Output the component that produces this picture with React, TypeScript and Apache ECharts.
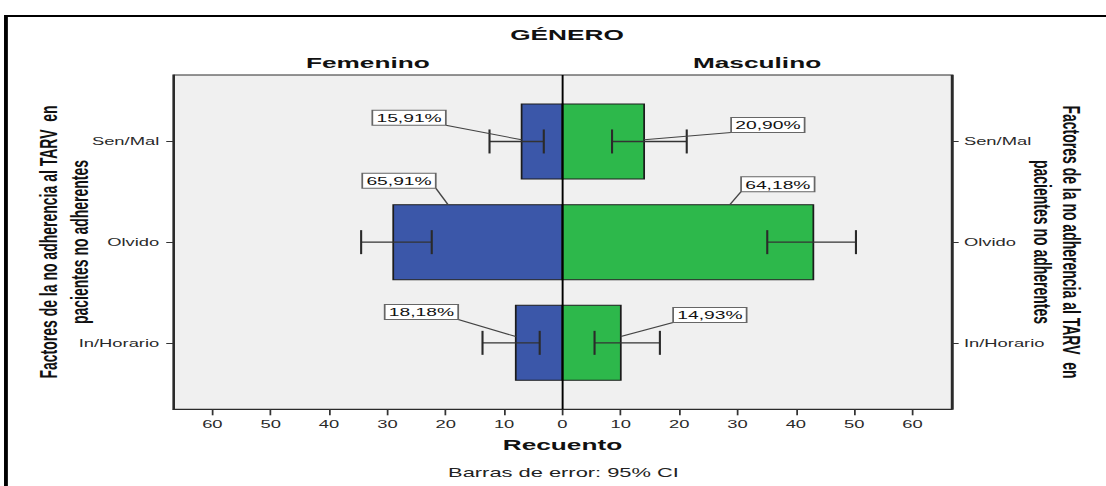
import React, { useEffect, useRef } from "react";
import * as echarts from "echarts";

// The reference picture is stretched horizontally; the chart is laid out
// at a narrower width and stretched back with a CSS scaleX.
const S = 1.75;
const W = 1106 / S;
const H = 486;

const CATEGORIES = ["In/Horario", "Olvido", "Sen/Mal"]; // bottom to top
const CAT_POS = [1, 2, 3];
const FEM_COUNTS = [8, 29, 7];
const MASC_COUNTS = [10, 43, 14];
const FEM_CI_LOW = [3.9, 22.4, 3.2];
const FEM_CI_HIGH = [13.7, 34.5, 12.5];
const MASC_CI_LOW = [5.5, 35.1, 8.5];
const MASC_CI_HIGH = [16.7, 50.3, 21.3];
const FEM_PCT = ["18,18%", "65,91%", "15,91%"];
const MASC_PCT = ["14,93%", "64,18%", "20,90%"];
const X_TICKS = [-60, -50, -40, -30, -20, -10, 0, 10, 20, 30, 40, 50, 60];
const Y_TICKS = [1, 2, 3];

// label box layout (px offsets from bar end, in unstretched units)
const FEM_LABEL_LAYOUT = [
  { box: [-53.9, -30.8], anchor: [0, -6.3] },
  { box: [3.3, -61.5], anchor: [31.3, -37.5] },
  { box: [-64.3, -23.7], anchor: [0, -1.7] },
];
const MASC_LABEL_LAYOUT = [
  { box: [50.9, -27.8], anchor: [0, -6.3] },
  { box: [-20.3, -58], anchor: [-47.7, -37.5] },
  { box: [70.7, -16.4], anchor: [0, -1.7] },
];

const FONT = "'Liberation Sans', Arial, Helvetica, sans-serif";
const FEM_COLOR = "#3b57a9";
const MASC_COLOR = "#2db84b";
const BAR_BAND = 0.745;
const CAP = 12;
const BOX_W = 42;
const BOX_H = 15;

function barRender(color: string) {
  return (params: any, api: any) => {
    const v = api.value(0);
    const y = api.value(1);
    const p0 = api.coord([0, y]);
    const p1 = api.coord([v, y]);
    const h = api.size([0, BAR_BAND])[1];
    return {
      type: "rect",
      shape: {
        x: Math.min(p0[0], p1[0]),
        y: p0[1] - h / 2,
        width: Math.abs(p1[0] - p0[0]),
        height: h,
      },
      style: { fill: color, stroke: "#1c1c1c", lineWidth: 1 },
    };
  };
}

function errRender(params: any, api: any) {
  const lo = api.value(0);
  const hi = api.value(1);
  const y = api.value(2);
  const a = api.coord([lo, y]);
  const b = api.coord([hi, y]);
  const st = { stroke: "#2a2a2a", lineWidth: 1.2 };
  return {
    type: "group",
    children: [
      { type: "line", shape: { x1: a[0], y1: a[1], x2: b[0], y2: b[1] }, style: { stroke: "#333", lineWidth: 1.4 } },
      { type: "line", shape: { x1: a[0], y1: a[1] - CAP, x2: a[0], y2: a[1] + CAP }, style: st },
      { type: "line", shape: { x1: b[0], y1: b[1] - CAP, x2: b[0], y2: b[1] + CAP }, style: st },
    ],
  };
}

function labelRender(side: "f" | "m") {
  return (params: any, api: any) => {
    const i = params.dataIndex;
    const lay = side === "f" ? FEM_LABEL_LAYOUT[i] : MASC_LABEL_LAYOUT[i];
    const text = side === "f" ? FEM_PCT[i] : MASC_PCT[i];
    const end = api.coord([api.value(0), api.value(1)]);
    const cx = end[0] + lay.box[0];
    const cy = end[1] + lay.box[1];
    const ax = end[0] + lay.anchor[0];
    const ay = end[1] + lay.anchor[1];
    const sx = side === "f" ? cx + BOX_W / 2 : cx - BOX_W / 2;
    const sy = cy + BOX_H / 2;
    return {
      type: "group",
      children: [
        { type: "line", shape: { x1: sx, y1: sy, x2: ax, y2: ay }, style: { stroke: "#444", lineWidth: 1 } },
        {
          type: "rect",
          shape: { x: cx - BOX_W / 2, y: cy - BOX_H / 2, width: BOX_W, height: BOX_H },
          style: { fill: "#fff", stroke: "#666", lineWidth: 1 },
        },
        {
          type: "text",
          x: cx,
          y: cy + 0.5,
          style: {
            text,
            align: "center",
            verticalAlign: "middle",
            textAlign: "center",
            textVerticalAlign: "middle",
            font: `11px ${FONT}`,
            fill: "#111",
          },
        },
      ],
    };
  };
}

function txt(x: number, y: number, text: string, font: string, extra: any = {}) {
  return {
    type: "text",
    x,
    y,
    silent: true,
    ...extra,
    style: {
      text,
      font,
      fill: "#111",
      align: "center",
      verticalAlign: "middle",
      textAlign: "center",
      textVerticalAlign: "middle",
      ...(extra.style || {}),
    },
  };
}

export default function App() {
  const ref = useRef<HTMLDivElement>(null);

  useEffect(() => {
    document.body.style.margin = "0";
    document.body.style.overflow = "hidden";
    if (!ref.current) return;
    const chart = echarts.init(ref.current, null, { renderer: "svg" });

    const yAxisBase = (position: "left" | "right", margin: number) => ({
      type: "value",
      position,
      min: 0.34,
      max: 3.66,
      splitLine: { show: false },
      axisLine: { show: true, onZero: false, lineStyle: { color: "#2b2b2b", width: 1 } },
      axisTick: { show: true, customValues: Y_TICKS, length: 4, lineStyle: { color: "#333", width: 1 } },
      axisLabel: {
        show: true,
        customValues: Y_TICKS,
        formatter: (v: number) => CATEGORIES[Math.round(v) - 1] || "",
        margin,
        color: "#2a2a2a",
        fontSize: 10.5,
        fontFamily: FONT,
      },
    });

    const option: any = {
      animation: false,
      backgroundColor: "#fff",
      grid: {
        left: 99,
        top: 75,
        width: 444.8,
        height: 334.3,
        show: true,
        backgroundColor: "#f0f0f0",
        borderColor: "#2b2b2b",
        borderWidth: 1,
        containLabel: false,
      },
      xAxis: {
        type: "value",
        min: -66.7,
        max: 66.7,
        splitLine: { show: false },
        axisLine: { show: true, onZero: false, lineStyle: { color: "#2b2b2b", width: 1 } },
        axisTick: { show: true, customValues: X_TICKS, length: 6, lineStyle: { color: "#333", width: 1 } },
        axisLabel: {
          show: true,
          customValues: X_TICKS,
          formatter: (v: number) => String(Math.abs(v)),
          margin: 9,
          color: "#2a2a2a",
          fontSize: 10.5,
          fontFamily: FONT,
        },
      },
      yAxis: [yAxisBase("left", 8), yAxisBase("right", 7)],
      graphic: [
        {
          type: "rect",
          silent: true,
          shape: { x: 3.4, y: 16, width: 2000, height: 1000 },
          style: { fill: "none", stroke: "#000", lineWidth: 2.2 },
        },
        txt(324, 35, "GÉNERO", `bold 15px ${FONT}`),
        txt(210.2, 63, "Femenino", `bold 15px ${FONT}`),
        txt(432.6, 63, "Masculino", `bold 15px ${FONT}`),
        txt(321.4, 445, "Recuento", `bold 15px ${FONT}`),
        txt(322, 473, "Barras de error: 95% CI", `12.5px ${FONT}`, { style: { fill: "#222" } }),
        txt(36.6, 242, "Factores de la no adherencia al TARV  en\npacientes no adherentes", `bold 14px ${FONT}`, {
          rotation: Math.PI / 2,
          style: { lineHeight: 18 },
        }),
        txt(604, 242, "Factores de la no adherencia al TARV  en\npacientes no adherentes", `bold 14px ${FONT}`, {
          rotation: -Math.PI / 2,
          style: { lineHeight: 17 },
        }),
      ],
      series: [
        {
          type: "custom",
          name: "Femenino",
          z: 2,
          silent: true,
          renderItem: barRender(FEM_COLOR),
          encode: { x: 0, y: 1 },
          data: FEM_COUNTS.map((c, i) => [-c, CAT_POS[i]]),
        },
        {
          type: "custom",
          name: "Masculino",
          z: 2,
          silent: true,
          renderItem: barRender(MASC_COLOR),
          encode: { x: 0, y: 1 },
          data: MASC_COUNTS.map((c, i) => [c, CAT_POS[i]]),
        },
        {
          type: "custom",
          name: "IC Femenino",
          z: 3,
          silent: true,
          renderItem: errRender,
          encode: { x: [0, 1], y: 2 },
          data: FEM_CI_LOW.map((lo, i) => [-lo, -FEM_CI_HIGH[i], CAT_POS[i]]),
          markLine: {
            silent: true,
            symbol: ["none", "none"],
            label: { show: false },
            lineStyle: { color: "#000", width: 1.1, type: "solid" },
            data: [{ xAxis: 0 }],
          },
        },
        {
          type: "custom",
          name: "IC Masculino",
          z: 3,
          silent: true,
          renderItem: errRender,
          encode: { x: [0, 1], y: 2 },
          data: MASC_CI_LOW.map((lo, i) => [lo, MASC_CI_HIGH[i], CAT_POS[i]]),
        },
        {
          type: "custom",
          name: "Etiquetas Femenino",
          z: 5,
          silent: true,
          renderItem: labelRender("f"),
          encode: { x: 0, y: 1 },
          data: FEM_COUNTS.map((c, i) => [-c, CAT_POS[i]]),
        },
        {
          type: "custom",
          name: "Etiquetas Masculino",
          z: 5,
          silent: true,
          renderItem: labelRender("m"),
          encode: { x: 0, y: 1 },
          data: MASC_COUNTS.map((c, i) => [c, CAT_POS[i]]),
        },
      ],
    };

    chart.setOption(option);
    return () => chart.dispose();
  }, []);

  return (
    <div
      ref={ref}
      style={{
        position: "fixed",
        left: 0,
        top: 0,
        width: W,
        height: H,
        transform: `scaleX(${S})`,
        transformOrigin: "0 0",
      }}
    />
  );
}
